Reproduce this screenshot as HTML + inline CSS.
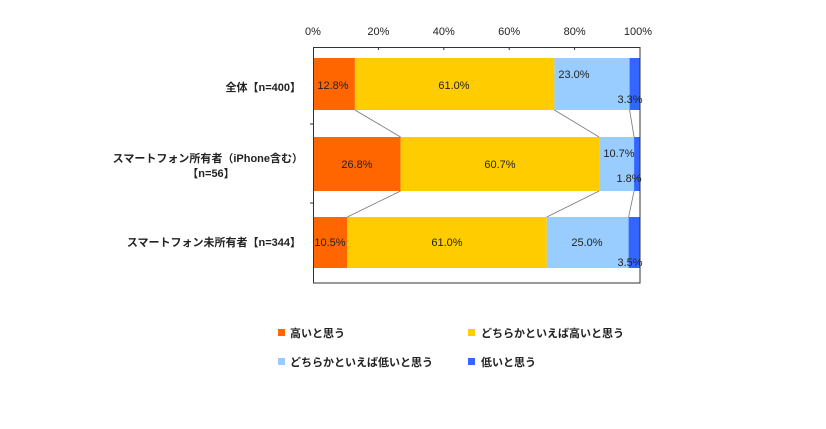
<!DOCTYPE html>
<html><head><meta charset="utf-8"><style>
body{margin:0;background:#fff;width:826px;height:424px;overflow:hidden}
svg text{font-family:"Liberation Sans","Noto Sans CJK JP",sans-serif;font-size:11px;fill:#222}
</style></head><body>
<svg width="826" height="424" xmlns="http://www.w3.org/2000/svg">
<g font-size="11">
<text x="313" y="35" text-anchor="middle" fill="#333">0%</text>
<text x="378.4" y="35" text-anchor="middle">20%</text>
<text x="443.8" y="35" text-anchor="middle">40%</text>
<text x="509.2" y="35" text-anchor="middle">60%</text>
<text x="574.6" y="35" text-anchor="middle">80%</text>
<text x="638" y="35" text-anchor="middle">100%</text>
</g>
<g>
<rect x="313" y="58" width="41.9" height="52" fill="#ff6600"/>
<rect x="354.9" y="58" width="199.5" height="52" fill="#ffcc00"/>
<rect x="554.4" y="58" width="75.2" height="52" fill="#99ccff"/>
<rect x="629.6" y="58" width="10.4" height="52" fill="#3366ff"/>

<rect x="313" y="137" width="87.6" height="54" fill="#ff6600"/>
<rect x="400.6" y="137" width="198.5" height="54" fill="#ffcc00"/>
<rect x="599.1" y="137" width="35" height="54" fill="#99ccff"/>
<rect x="634.1" y="137" width="5.9" height="54" fill="#3366ff"/>

<rect x="313" y="217" width="34.3" height="51" fill="#ff6600"/>
<rect x="347.3" y="217" width="199.5" height="51" fill="#ffcc00"/>
<rect x="546.8" y="217" width="81.8" height="51" fill="#99ccff"/>
<rect x="628.6" y="217" width="11.4" height="51" fill="#3366ff"/>
</g>
<g stroke="#777" stroke-width="0.8">
<line x1="354.9" y1="110" x2="400.6" y2="137"/>
<line x1="554.4" y1="110" x2="599.1" y2="137"/>
<line x1="629.6" y1="110" x2="634.1" y2="137"/>
<line x1="400.6" y1="191" x2="347.3" y2="217"/>
<line x1="599.1" y1="191" x2="546.8" y2="217"/>
<line x1="634.1" y1="191" x2="628.6" y2="217"/>
</g>
<rect x="313.5" y="47.5" width="326.5" height="235.5" fill="none" stroke="#333" stroke-width="1"/>
<g stroke="#333"><line x1="378.4" y1="47" x2="378.4" y2="50"/><line x1="443.8" y1="47" x2="443.8" y2="50"/><line x1="509.2" y1="47" x2="509.2" y2="50"/><line x1="574.6" y1="47" x2="574.6" y2="50"/>
<line x1="313" y1="124" x2="310" y2="124"/><line x1="313" y1="203" x2="310" y2="203"/></g>
<g>
<text x="333" y="89" text-anchor="middle">12.8%</text>
<text x="454" y="89" text-anchor="middle">61.0%</text>
<text x="574" y="78" text-anchor="middle">23.0%</text>
<text x="630" y="103" text-anchor="middle">3.3%</text>
<text x="357" y="168" text-anchor="middle">26.8%</text>
<text x="500" y="168" text-anchor="middle">60.7%</text>
<text x="619" y="157" text-anchor="middle">10.7%</text>
<text x="629" y="182" text-anchor="middle">1.8%</text>
<text x="330" y="246" text-anchor="middle">10.5%</text>
<text x="447" y="246" text-anchor="middle">61.0%</text>
<text x="587" y="246" text-anchor="middle">25.0%</text>
<text x="630" y="266" text-anchor="middle">3.5%</text>
</g>
<g font-weight="bold" font-size="10.5">
<text x="301" y="91" text-anchor="end">全体【n=400】</text>
<text x="303" y="162" text-anchor="end" font-size="10">スマートフォン所有者（iPhone含む）</text>
<text x="211" y="177" text-anchor="middle">【n=56】</text>
<text x="301" y="246" text-anchor="end">スマートフォン未所有者【n=344】</text>
</g>
<g font-size="10.5" font-weight="bold">
<rect x="278" y="329" width="7" height="7" fill="#ff6600"/><text x="290" y="337">高いと思う</text>
<rect x="468" y="329" width="7" height="7" fill="#ffcc00"/><text x="481" y="337">どちらかといえば高いと思う</text>
<rect x="278" y="358" width="7" height="7" fill="#99ccff"/><text x="290" y="366">どちらかといえば低いと思う</text>
<rect x="468" y="358" width="7" height="7" fill="#3366ff"/><text x="481" y="366">低いと思う</text>
</g>
</svg>
</body></html>
